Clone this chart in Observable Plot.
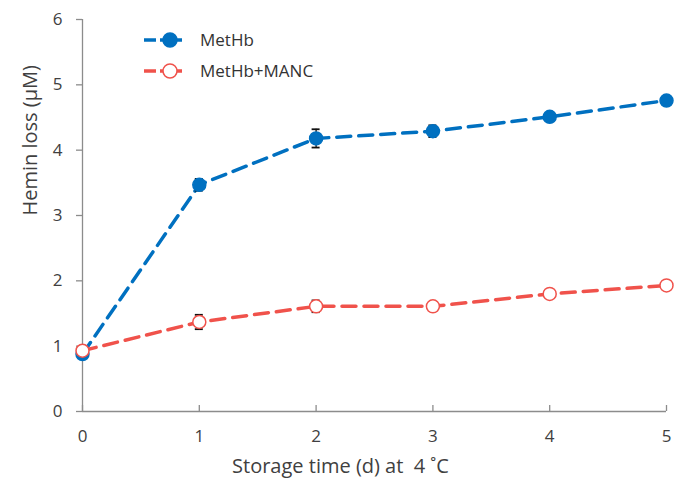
<!DOCTYPE html>
<html>
<head>
<meta charset="utf-8">
<script src="https://cdn.jsdelivr.net/npm/d3@7"></script>
<script src="https://cdn.jsdelivr.net/npm/@observablehq/plot@0.6"></script>
<style>
  html, body { margin: 0; padding: 0; background: #fff; }
  #wrap { position: relative; width: 686px; height: 479px; font-family: "Open Sans", "Noto Sans", sans-serif; }
  #legend { position: absolute; left: 140px; top: 24px; font-size: 17px; color: #333; }
  .row { display: flex; align-items: center; height: 31px; }
  .row svg { margin-right: 14px; }
</style>
</head>
<body>
<div id="wrap"></div>
<script>
const days = [0, 1, 2, 3, 4, 5];
const metHb = [0.88, 3.47, 4.18, 4.29, 4.51, 4.76];
const metHbErr = [0.03, 0.09, 0.14, 0.09, 0.03, 0.03];
const metHbManc = [0.93, 1.37, 1.61, 1.61, 1.80, 1.93];
const metHbMancErr = [0.02, 0.11, 0.09, 0.02, 0.02, 0.02];
const seriesNames = ["MetHb", "MetHb+MANC"];
const xTicks = [0, 1, 2, 3, 4, 5];
const yTicks = [0, 1, 2, 3, 4, 5, 6];

const blue = "#0070C0";
const red = "#F0524B";

const rows = [];
days.forEach((d, i) => {
  rows.push({t: d, v: metHb[i], e: metHbErr[i], s: seriesNames[0]});
  rows.push({t: d, v: metHbManc[i], e: metHbMancErr[i], s: seriesNames[1]});
});
const A = rows.filter(r => r.s === seriesNames[0]);
const B = rows.filter(r => r.s === seriesNames[1]);

const axisColor = "#8c8c8c";
const textColor = "#404040";

const chart = Plot.plot({
  width: 686,
  height: 479,
  marginLeft: 82,
  marginRight: 20,
  marginTop: 19,
  marginBottom: 68,
  style: {fontFamily: "'Open Sans', 'Noto Sans', sans-serif", fontSize: "16px", color: textColor, background: "#fff"},
  x: {domain: [0, 5]},
  y: {domain: [0, 6]},
  marks: [
    Plot.ruleX([0], {stroke: axisColor, strokeWidth: 1.3}),
    Plot.ruleY([0], {stroke: axisColor, strokeWidth: 1.3}),
    Plot.ruleX(xTicks, {x: d => d, y1: 0, y2: 0, insetTop: -6, stroke: axisColor, strokeWidth: 1.3}),
    Plot.axisY(yTicks, {tickSize: 6, tickPadding: 14, tickFormat: d3.format("d"), stroke: axisColor, strokeWidth: 1.3, fill: textColor, fontSize: 17, label: null}),
    Plot.axisX(xTicks, {tickSize: 0, tickPadding: 18, tickFormat: d3.format("d"), fill: textColor, fontSize: 17, label: null}),
    Plot.text(["Hemin loss (μM)"], {frameAnchor: "left", rotate: -90, dx: -52, fontSize: 20, fill: textColor}),
    Plot.text(["Storage time (d) at  4 ˚C"], {frameAnchor: "bottom", dy: 61, dx: -34, fontSize: 20, fill: textColor}),
    Plot.line(A, {x: "t", y: "v", stroke: blue, strokeWidth: 3.5, strokeDasharray: "14 8"}),
    Plot.line(B, {x: "t", y: "v", stroke: red, strokeWidth: 3.5, strokeDasharray: "14 8"}),
    Plot.ruleX(rows, {x: "t", y1: r => r.v - r.e, y2: r => r.v + r.e, stroke: "#111", strokeWidth: 1.3}),
    Plot.ruleY(rows, {y: r => r.v + r.e, x1: "t", x2: "t", insetLeft: -4, insetRight: -4, stroke: "#111", strokeWidth: 1.8}),
    Plot.ruleY(rows, {y: r => r.v - r.e, x1: "t", x2: "t", insetLeft: -4, insetRight: -4, stroke: "#111", strokeWidth: 1.8}),
    Plot.dot(A, {x: "t", y: "v", r: 6.5, fill: blue, stroke: blue}),
    Plot.dot(B, {x: "t", y: "v", r: 6.5, fill: "#fff", stroke: red, strokeWidth: 1.5})
  ]
});

const wrap = document.getElementById("wrap");
wrap.appendChild(chart);

const legend = document.createElement("div");
legend.id = "legend";
const colors = [blue, red];
const fills = [blue, "#fff"];
seriesNames.forEach((name, i) => {
  const row = document.createElement("div");
  row.className = "row";
  row.innerHTML = `<svg width="46" height="20"><line x1="4" x2="42" y1="10" y2="10" stroke="${colors[i]}" stroke-width="3.5" stroke-dasharray="12 4"/><circle cx="30" cy="10" r="7" fill="${fills[i]}" stroke="${colors[i]}" stroke-width="1.5"/></svg><span>${name}</span>`;
  legend.appendChild(row);
});
wrap.appendChild(legend);
</script>
</body>
</html>
